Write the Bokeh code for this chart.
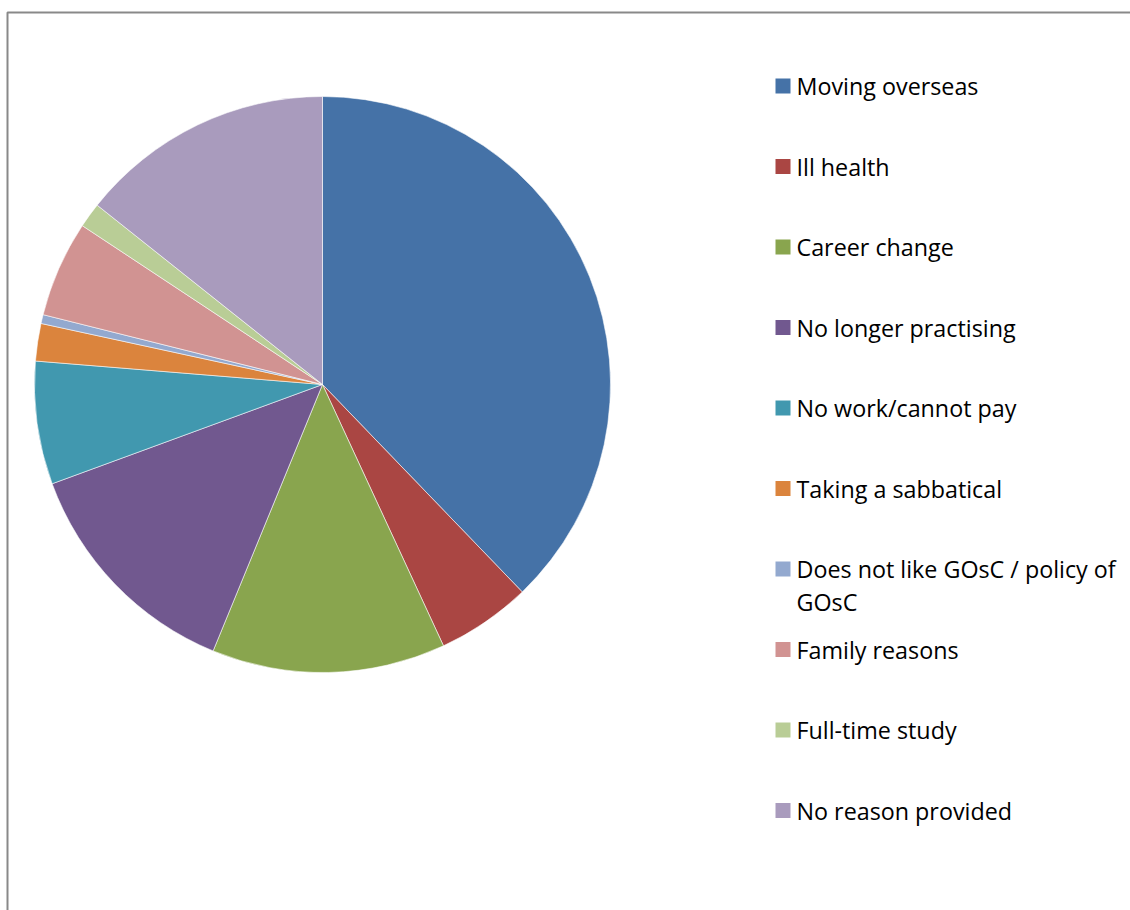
import math
from bokeh.plotting import figure
from bokeh.models import Range1d, BoxAnnotation, ColumnDataSource
from bokeh.core.properties import value
from bokeh.embed import file_html
from bokeh.resources import INLINE

# ---- data (percent of responses) ----
categories = [
    "Moving overseas",
    "Ill health",
    "Career change",
    "No longer practising",
    "No work/cannot pay",
    "Taking a sabbatical",
    "Does not like GOsC / policy of GOsC",
    "Family reasons",
    "Full-time study",
    "No reason provided",
]
shares = [37.8, 5.3, 13.1, 13.2, 6.9, 2.1, 0.5, 5.4, 1.4, 14.3]
colors = ["#4572A7", "#AA4643", "#89A54E", "#71588F", "#4198AF",
          "#DB843D", "#93A9CF", "#D19392", "#B9CD96", "#A99BBD"]
legend_lines = [
    ["Moving overseas"],
    ["Ill health"],
    ["Career change"],
    ["No longer practising"],
    ["No work/cannot pay"],
    ["Taking a sabbatical"],
    ["Does not like GOsC / policy of", "GOsC"],
    ["Family reasons"],
    ["Full-time study"],
    ["No reason provided"],
]

W, H = 1130, 910
p = figure(width=W, height=H, output_backend="svg", toolbar_location=None,
           x_range=Range1d(0, W), y_range=Range1d(0, H),
           min_border=0, min_border_left=0, min_border_right=0,
           min_border_top=0, min_border_bottom=0)
p.axis.visible = False
p.grid.visible = False
p.outline_line_color = None
p.background_fill_color = "white"
p.border_fill_color = "white"

# chart-area border (only left and top edges fall inside the picture)
p.add_layout(BoxAnnotation(left=7, right=W + 50, top=H - 12, bottom=-50,
                           fill_alpha=0, line_color="#898989", line_alpha=1.0,
                           line_width=2))

# ---- pie ----
cx, cy, r = 322, H - 384, 288
total = sum(shares)
starts, ends = [], []
acc = 0.0
for s in shares:
    starts.append(math.pi / 2 - 2 * math.pi * acc / total)
    acc += s
    ends.append(math.pi / 2 - 2 * math.pi * acc / total)

src = ColumnDataSource(dict(start=starts, end=ends, color=colors, cat=categories))
p.wedge(x=cx, y=cy, radius=r, start_angle="start", end_angle="end",
        direction="clock", fill_color="color", line_color="white",
        line_width=0.8, line_alpha=0.7, source=src)

# ---- legend ----
lx, top_row, step = 782.5, H - 85.5, 80.5
sq_x, sq_y, sq_c = [], [], []
tx, ty, tt = [], [], []
for i, lines in enumerate(legend_lines):
    yc = top_row - i * step
    sq_x.append(lx)
    sq_y.append(yc)
    sq_c.append(colors[i])
    for j, line in enumerate(lines):
        tx.append(lx + 13.5)
        ty.append(yc - j * 33)
        tt.append(line)

p.rect(x=sq_x, y=sq_y, width=15, height=15, fill_color=sq_c, line_color=None)
p.text(x=tx, y=ty, text=tt, text_font=value("Open Sans"), text_font_size="23.3px",
       text_baseline="middle", text_align="left", text_color="#000000")

open("out.html", "w").write(file_html(p, INLINE))
